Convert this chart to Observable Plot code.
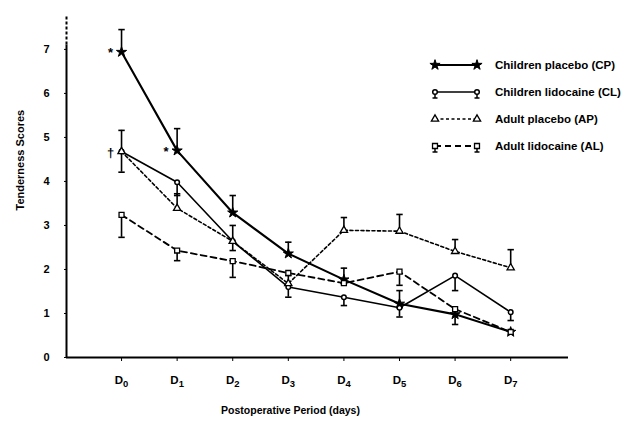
<!DOCTYPE html>
<html><head><meta charset="utf-8">
<script src="https://cdn.jsdelivr.net/npm/d3@7"></script>
<script src="https://cdn.jsdelivr.net/npm/@observablehq/plot@0.6"></script>
<style>
body{margin:0;background:#fff;}
#wrap{position:relative;width:630px;height:421px;}
#legend{position:absolute;left:0;top:0;pointer-events:none;}
</style></head><body><div id="wrap"></div>
<script>
// ---- data ----
const days = [0, 1, 2, 3, 4, 5, 6, 7];
const dayLabels = ["D0", "D1", "D2", "D3", "D4", "D5", "D6", "D7"];
const yTicks = [0, 1, 2, 3, 4, 5, 6, 7];
const seriesKeys = ["CP", "CL", "AP", "AL"];
const seriesNames = ["Children placebo (CP)", "Children lidocaine (CL)", "Adult placebo (AP)", "Adult lidocaine (AL)"];
const cpMeans = [6.94, 4.70, 3.29, 2.36, 1.77, 1.22, 0.98, 0.58];
const cpErr   = [7.45, 5.20, 3.68, 2.62, 2.03, 1.52, null, null];
const clMeans = [4.68, 3.98, 2.64, 1.60, 1.37, 1.13, 1.86, 1.03];
const clErr   = [4.21, 3.68, 2.43, 1.37, 1.18, 0.92, 1.52, 0.84];
const apMeans = [4.68, 3.39, 2.64, 1.68, 2.89, 2.87, 2.41, 2.04];
const apErr   = [5.16, 3.72, 3.00, 1.86, 3.18, 3.25, 2.68, 2.45];
const alMeans = [3.24, 2.43, 2.19, 1.92, 1.69, 1.95, 1.10, 0.58];
const alErr   = [2.73, 2.20, 1.82, null, null, 1.64, 0.75, null];
const annotKeys = ["CP", "CP", "CL"];
const annotDays = [0, 1, 0];
const annotTexts = ["*", "*", "†"];
const xTitle = "Postoperative Period (days)";
const yTitle = "Tenderness Scores";

// ---- styles ----
const means = {CP: cpMeans, CL: clMeans, AP: apMeans, AL: alMeans};
const errs = {CP: cpErr, CL: clErr, AP: apErr, AL: alErr};
const styles = {
  CP: {width: 2.1, dash: null, symbol: "star", r: 3.2, fill: "black", sw: 1},
  CL: {width: 1.6, dash: null, symbol: "circle", r: 2.3, fill: "white", sw: 1.5},
  AP: {width: 1.6, dash: "3,2.5", symbol: "triangle", r: 2.7, fill: "white", sw: 1.3},
  AL: {width: 1.8, dash: "6,4", symbol: "square", r: 2.8, fill: "white", sw: 1.3}
};

const rows = seriesKeys.flatMap(k => days.map((d, i) => ({key: k, day: d, mean: means[k][i], err: errs[k][i]})));
const errRows = rows.filter(r => r.err != null);
const annots = annotKeys.map((k, i) => ({day: annotDays[i], y: means[k][annotDays[i]], text: annotTexts[i]}));

const capSymbol = {draw(ctx, size) { const w = Math.sqrt(size / Math.PI); ctx.moveTo(-w, 0); ctx.lineTo(w, 0); }};

const xDomain = [-0.99, 8.04];
const yDomain = [0, 7.77];
const font = "'Liberation Sans', Arial, sans-serif";

const marks = [];
// axes lines
marks.push(Plot.ruleY([0], {stroke: "black", strokeWidth: 2}));
marks.push(Plot.ruleX([xDomain[0]], {y1: 0, y2: 7.1, stroke: "black", strokeWidth: 2}));
marks.push(Plot.ruleX([xDomain[0]], {y1: 7.1, y2: yDomain[1], stroke: "black", strokeWidth: 2, strokeDasharray: "3,2"}));
// series lines
for (const k of seriesKeys) {
  const s = styles[k];
  marks.push(Plot.line(rows.filter(r => r.key === k), {x: "day", y: "mean", stroke: "black", strokeWidth: s.width, strokeDasharray: s.dash}));
}
// error bars
marks.push(Plot.ruleX(errRows, {x: "day", y1: "mean", y2: "err", stroke: "black", strokeWidth: 1.6}));
marks.push(Plot.dot(errRows, {x: "day", y: "err", symbol: capSymbol, r: 3.2, stroke: "black", strokeWidth: 1.6, fill: "none"}));
// markers
for (const k of seriesKeys) {
  const s = styles[k];
  marks.push(Plot.dot(rows.filter(r => r.key === k), {x: "day", y: "mean", symbol: s.symbol, r: s.r, fill: s.fill, stroke: "black", strokeWidth: s.sw}));
}
// annotations
marks.push(Plot.text(annots, {x: "day", y: "y", text: "text", dx: -11, dy: 1, fontSize: 13, fontWeight: "bold", textAnchor: "middle"}));
// axes
marks.push(Plot.axisY(yTicks, {tickSize: 2, tickPadding: 15, fontSize: 11, fontWeight: "bold", label: null}));
marks.push(Plot.axisX(days, {tickSize: 4, tickPadding: 14, fontSize: 11.5, fontWeight: "bold", tickFormat: d => dayLabels[d], label: null}));
// titles
marks.push(Plot.text([yTitle], {frameAnchor: "left", rotate: -90, dx: -46, dy: 24, fontSize: 11, fontWeight: "bold", lineAnchor: "middle"}));
marks.push(Plot.text([xTitle], {frameAnchor: "bottom", dx: -27, dy: 53, fontSize: 10.5, fontWeight: "bold", lineAnchor: "middle"}));

const chart = Plot.plot({
  width: 630, height: 421,
  marginLeft: 66, marginRight: 62, marginTop: 15, marginBottom: 64,
  x: {type: "linear", domain: xDomain},
  y: {domain: yDomain},
  style: {fontFamily: font, background: "white", color: "black"},
  marks
});
document.getElementById("wrap").appendChild(chart);

// subscripts for day labels
d3.select(chart).selectAll('g[aria-label="x-axis tick label"] text').each(function() {
  const t = d3.select(this);
  const s = t.text();
  t.text(s[0]);
  t.append("tspan").attr("dy", "0.32em").attr("font-size", "0.82em").text(s.slice(1));
});

// legend overlay
const lg = d3.select("#wrap").append("svg").attr("id", "legend").attr("width", 630).attr("height", 421)
  .style("font-family", font);
const symMap = {star: d3.symbolStar, circle: d3.symbolCircle, triangle: d3.symbolTriangle, square: d3.symbolSquare};
const legX0 = 435, legX1 = 477, legTextX = 495, legY0 = 65, legDy = 27;
seriesKeys.forEach((k, i) => {
  const s = styles[k];
  const y = legY0 + i * legDy;
  const g = lg.append("g");
  g.append("line").attr("x1", legX0).attr("x2", legX1).attr("y1", y).attr("y2", y)
    .attr("stroke", "black").attr("stroke-width", s.width).attr("stroke-dasharray", s.dash);
  for (const x of [legX0, legX1]) {
    if (k === "CL" || k === "AL") {
      g.append("line").attr("x1", x).attr("x2", x).attr("y1", y).attr("y2", y + 6).attr("stroke", "black").attr("stroke-width", 1.5);
      g.append("line").attr("x1", x - 2.5).attr("x2", x + 2.5).attr("y1", y + 6).attr("y2", y + 6).attr("stroke", "black").attr("stroke-width", 1.5);
    }
    g.append("path").attr("transform", `translate(${x},${y})`)
      .attr("d", d3.symbol(symMap[s.symbol], Math.PI * s.r * s.r)())
      .attr("fill", s.fill).attr("stroke", "black").attr("stroke-width", s.sw);
  }
  g.append("text").attr("x", legTextX).attr("y", y).attr("dy", "0.35em")
    .attr("font-size", 11.5).attr("font-weight", "bold").text(seriesNames[i]);
});
</script></body></html>
